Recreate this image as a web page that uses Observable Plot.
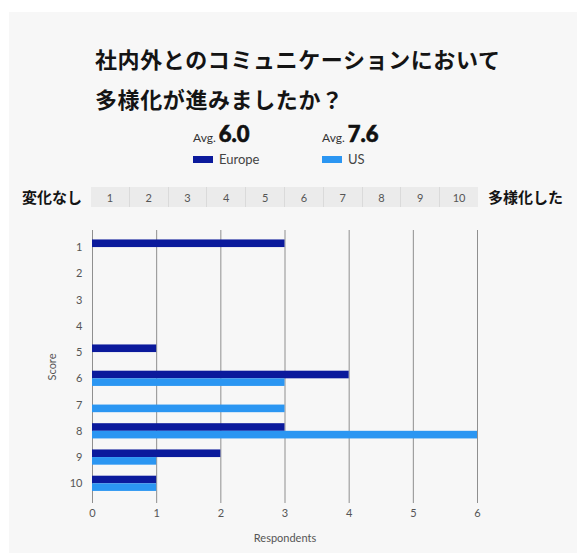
<!DOCTYPE html>
<html>
<head>
<meta charset="utf-8">
<script src="https://cdn.jsdelivr.net/npm/d3@7"></script>
<script src="https://cdn.jsdelivr.net/npm/@observablehq/plot@0.6"></script>
<style>
  html, body { margin: 0; padding: 0; background: #ffffff; }
  body { width: 577px; height: 557px; position: relative; overflow: hidden; font-family: Lato, "Noto Sans", sans-serif; }
  #panel { position: absolute; left: 9px; top: 12px; width: 568px; height: 541px; background: #f7f7f7; }
  #title { position: absolute; left: 95px; top: 38px; font-family: "Noto Sans CJK JP", sans-serif; font-weight: 700; font-size: 22px; line-height: 40px; letter-spacing: 0.6px; color: #141414; white-space: nowrap; }
  .avg { position: absolute; top: 124px; display: flex; align-items: baseline; line-height: 20px; white-space: nowrap; }
  .avg .lab { font-family: Lato, sans-serif; font-size: 12px; color: #333; margin-right: 3px; }
  .avg .num { font-family: Lato, sans-serif; font-weight: 900; font-size: 22px; color: #111; -webkit-text-stroke: 0.6px #111; }
  .key { position: absolute; top: 151px; height: 16px; display: flex; align-items: center; white-space: nowrap; font-family: Lato, sans-serif; font-size: 13px; color: #444; }
  .key .sw { width: 20px; height: 7px; margin-right: 6px; }
  #strip { position: absolute; left: 91px; top: 187px; width: 387px; height: 20px; display: flex; }
  #strip div { flex: 1; background: #ebebeb; border-left: 1px solid #dadada; font-family: Lato, sans-serif; font-size: 11px; color: #555; display: flex; align-items: center; justify-content: center; }
  #strip div:first-child { border-left: none; }
  .end { position: absolute; top: 186px; line-height: 22px; font-family: "Noto Sans CJK JP", sans-serif; font-weight: 700; font-size: 15px; color: #141414; white-space: nowrap; }
  #chart { position: absolute; left: 0; top: 200px; }
</style>
</head>
<body>
<div id="panel"></div>
<div id="title"></div>
<div id="legend"></div>
<div id="strip"></div>
<div class="end" id="leftEnd" style="left:22px"></div>
<div class="end" id="rightEnd" style="left:488px"></div>
<div id="chart"></div>
<script>
// ---- data ----
const titleLines = ["社内外とのコミュニケーションにおいて", "多様化が進みましたか？"];
const scores = [1, 2, 3, 4, 5, 6, 7, 8, 9, 10];
const europe = [3, 0, 0, 0, 1, 4, 0, 3, 2, 1];
const us =     [0, 0, 0, 0, 0, 3, 3, 6, 1, 1];
const seriesNames = ["Europe", "US"];
const seriesColors = ["#0b1a9c", "#2b96f2"];
const averages = ["6.0", "7.6"];
const avgLabel = "Avg.";
const scaleLabels = ["1", "2", "3", "4", "5", "6", "7", "8", "9", "10"];
const scaleEnds = ["変化なし", "多様化した"];
const xTicks = [0, 1, 2, 3, 4, 5, 6];
const xLabel = "Respondents";
const yLabel = "Score";

// ---- title ----
document.getElementById("title").innerHTML = titleLines.join("<br>");

// ---- legend ----
const legendX = [193, 322];
const legend = document.getElementById("legend");
seriesNames.forEach((name, i) => {
  const a = document.createElement("div");
  a.className = "avg";
  a.style.left = legendX[i] + "px";
  a.innerHTML = `<span class="lab">${avgLabel}</span><span class="num">${averages[i]}</span>`;
  legend.appendChild(a);
  const k = document.createElement("div");
  k.className = "key";
  k.style.left = legendX[i] + "px";
  k.innerHTML = `<span class="sw" style="background:${seriesColors[i]}"></span><span>${name}</span>`;
  legend.appendChild(k);
});

// ---- scale strip ----
const strip = document.getElementById("strip");
scaleLabels.forEach(t => {
  const c = document.createElement("div");
  c.textContent = t;
  strip.appendChild(c);
});
document.getElementById("leftEnd").textContent = scaleEnds[0];
document.getElementById("rightEnd").textContent = scaleEnds[1];

// ---- chart ----
const rows = [];
scores.forEach((s, i) => {
  rows.push({score: s, series: seriesNames[0], count: europe[i]});
  rows.push({score: s, series: seriesNames[1], count: us[i]});
});
const bars = rows.filter(d => d.count > 0);
const band = 0.29;

const chart = Plot.plot({
  width: 577,
  height: 350,
  marginTop: 30,
  marginBottom: 47,
  marginLeft: 92,
  marginRight: 100,
  style: {background: "transparent", fontFamily: "Lato, sans-serif", fontSize: "11px", color: "#555"},
  x: {domain: [0, 6], ticks: xTicks, tickFormat: "d", tickSize: 0, tickPadding: 6, label: xLabel, labelArrow: "none", labelAnchor: "center", labelOffset: 38},
  y: {type: "linear", domain: [0.35, 10.75], reverse: true, ticks: scores, tickFormat: "d", tickSize: 0, tickPadding: 10, label: yLabel, labelArrow: "none", labelAnchor: "center", labelOffset: 44},
  color: {domain: seriesNames, range: seriesColors},
  marks: [
    Plot.ruleX(xTicks, {stroke: "#8f8f8f", strokeWidth: 1}),
    Plot.rectX(bars, {
      x2: "count",
      y1: d => d.series === seriesNames[0] ? d.score - band : d.score,
      y2: d => d.series === seriesNames[0] ? d.score : d.score + band,
      fill: "series"
    })
  ]
});
document.getElementById("chart").appendChild(chart);
</script>
</body>
</html>
